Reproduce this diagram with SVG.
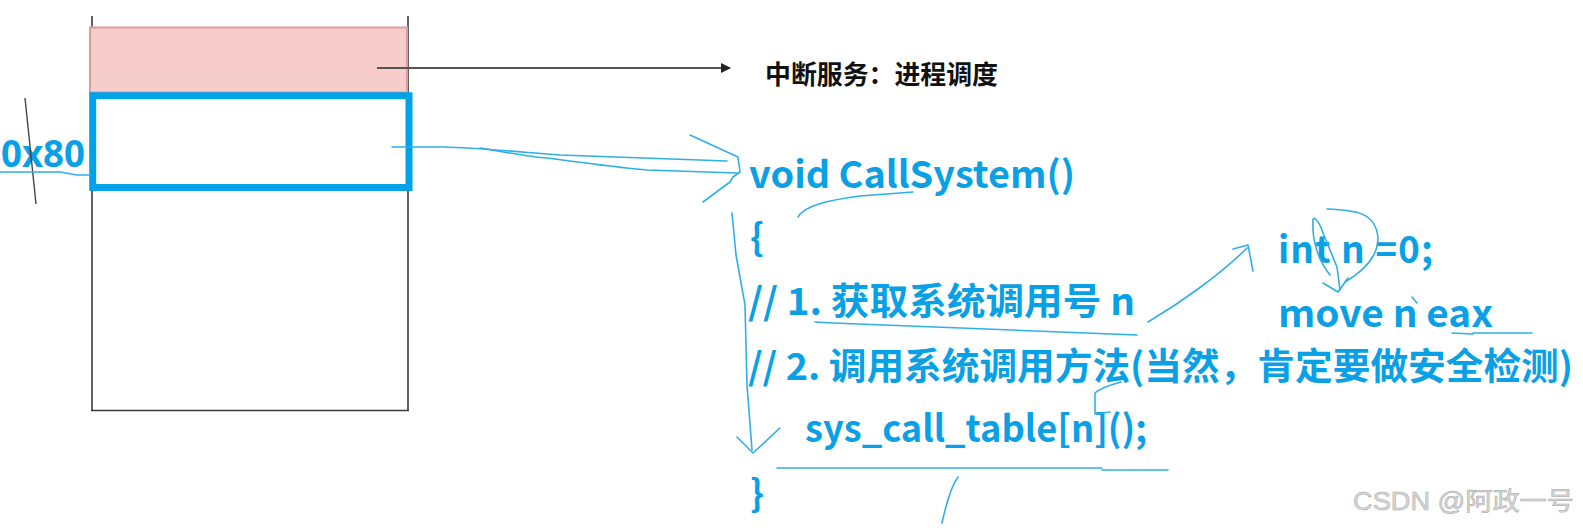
<svg xmlns="http://www.w3.org/2000/svg" width="1583" height="532" viewBox="0 0 1583 532">
<defs>
<style>
.code{font-family:"Noto Sans CJK SC","Noto Sans",sans-serif;font-weight:bold;font-size:37px;fill:#0AA0E6}
.hand{fill:none;stroke:#2FAFEA;stroke-width:1.6;stroke-linecap:round;stroke-linejoin:round}
.ink{fill:none;stroke:#3a3a3a;stroke-width:1.6}
</style>
<marker id="arr" viewBox="0 0 10 10" refX="9" refY="5" markerWidth="10" markerHeight="10" markerUnits="userSpaceOnUse" orient="auto">
<path d="M0,0 L10,5 L0,10 Z" fill="#222"/>
</marker>
</defs>
<rect width="1583" height="532" fill="#fff"/>

<g id="stack">
<line class="ink" x1="92" y1="16" x2="92" y2="411"/>
<line class="ink" x1="408" y1="16" x2="408" y2="411"/>
<line class="ink" x1="91" y1="410.5" x2="409" y2="410.5"/>
</g>
<g id="slot-interrupt">
<rect x="90" y="27.5" width="317" height="65" fill="#F6CDCB" stroke="#DB9E9B" stroke-width="2"/>
</g>
<g id="slot-0x80">
<rect x="92.7" y="95.7" width="316.3" height="91.8" fill="#fff" stroke="#02A2E6" stroke-width="7"/>
</g>
<g id="label-0x80">
<text x="1" y="167" font-family="'Noto Sans','Liberation Sans',sans-serif" font-weight="bold" font-size="38" fill="#0AA0E6" textLength="84" lengthAdjust="spacingAndGlyphs">0x80</text>
<line x1="25" y1="98" x2="36" y2="204" stroke="#444" stroke-width="1.4"/>
</g>
<g id="label-interrupt">
<text x="765" y="84" font-family="'Noto Sans CJK SC',sans-serif" font-weight="bold" font-size="26" fill="#111" textLength="233" lengthAdjust="spacingAndGlyphs">中断服务：进程调度</text>
</g>

<g id="code">
<text class="code" x="749" y="188" textLength="326" lengthAdjust="spacingAndGlyphs">void CallSystem()</text>
<text class="code" x="750" y="251">{</text>
<text class="code" x="748" y="315" textLength="387" lengthAdjust="spacingAndGlyphs">// 1. 获取系统调用号 n</text>
<text class="code" x="748" y="380" textLength="825" lengthAdjust="spacingAndGlyphs">// 2. 调用系统调用方法(当然，肯定要做安全检测)</text>
<text class="code" x="805" y="442" textLength="342" lengthAdjust="spacingAndGlyphs">sys_call_table[n]();</text>
<text class="code" x="750" y="507">}</text>
</g>
<g id="asm">
<text class="code" x="1278" y="263" textLength="155" lengthAdjust="spacing">int n =0;</text>
<text class="code" x="1278" y="327" textLength="215" lengthAdjust="spacingAndGlyphs">move n eax</text>
</g>
<g id="watermark">
<text x="1353" y="510" font-family="'Liberation Sans','Noto Sans CJK SC',sans-serif" font-size="25" fill="#D8D8D8" stroke="#A8A8A8" stroke-width="0.5" textLength="221" lengthAdjust="spacingAndGlyphs">CSDN @阿政一号</text>
</g>

<g id="connectors">
<line x1="377" y1="68" x2="730" y2="68" stroke="#555" stroke-width="2" marker-end="url(#arr)"/>
<path class="hand" d="M0,172 L60,172 L77,175 L90,175"/>
<path class="hand" d="M392,147 L443,147 C480,148 520,152 560,155 L727,161"/>
<path class="hand" d="M480,148 C510,153 530,157 547,158 C580,162 620,168 647,170 L737,173"/>
<path class="hand" d="M690,135 L738,157 L740,172 L733,177 L730,182 L703,202"/>
<path class="hand" d="M798,217 C805,205 830,200 860,196 L913,192"/>
<path class="hand" d="M732,213 L736,255 L745,305 L747,385 L752,450"/>
<path class="hand" d="M737,437 L753,453 L780,428"/>
<path class="hand" d="M815,322 L833,323 C900,325 1000,330 1137,335"/>
<path class="hand" d="M1148,322 C1180,303 1220,275 1247,248"/>
<path class="hand" d="M1233,249 L1248,245 L1253,271"/>
<path class="hand" d="M1110,412 L1095,414 L1095,393 C1100,388 1110,385 1121,382"/>
<path class="hand" d="M777,468 L1102,468 M1102,470 L1168,470"/>
<path class="hand" d="M958,477 C952,485 947,500 942,523"/>
<path class="hand" d="M1340,290 L1337,267 L1323,233 C1318,218 1312,215 1313,222 C1312,240 1318,260 1330,275"/>
<path class="hand" d="M1327,209 C1355,210 1376,212 1378,238 C1378,258 1362,272 1345,282"/>
<path class="hand" d="M1323,283 L1338,292 L1348,278"/>
<path class="hand" d="M1412,297 L1417,303"/>
<path class="hand" d="M1452,333 L1473,334 M1473,333 L1532,333"/>
</g>
</svg>
